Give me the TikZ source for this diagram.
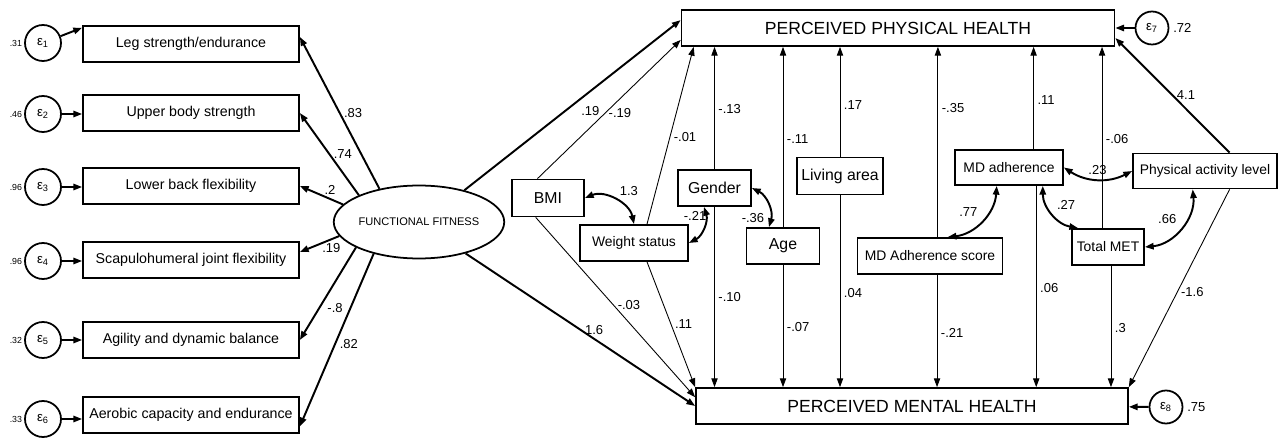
\documentclass[tikz,border=0pt]{standalone}
\usepackage{fontspec}
\setmainfont{Liberation Sans}
\usepackage{tikz}
\usetikzlibrary{arrows.meta, positioning, shapes.geometric}

\begin{document}
\begin{tikzpicture}[
        x=0.02cm, y=-0.02cm,
        obs/.style={draw, line width=1pt, inner sep=0pt, font=\fontsize{7.9}{9}\selectfont},
        ind/.style={obs, minimum width=4.32cm, minimum height=0.72cm, font=\fontsize{8.1}{9}\selectfont},
        outcome/.style={obs, minimum width=8.66cm, minimum height=0.72cm, font=\fontsize{10}{12}\selectfont},
        bigobs/.style={obs, font=\fontsize{9}{11}\selectfont},
        err/.style={circle, draw, line width=1pt, minimum size=0.72cm, inner sep=0pt, font=\fontsize{7.5}{8}\selectfont},
        var/.style={inner sep=1pt, font=\fontsize{5}{6}\selectfont},
        lbl/.style={inner sep=2pt, font=\fontsize{7.4}{8}\selectfont},
        reg/.style={-{Triangle[length=5pt, width=3.6pt]}, line width=0.5pt},
        load/.style={reg, line width=1.1pt},
        cov/.style={{Triangle[length=5pt, width=3.6pt]}-{Triangle[length=5pt, width=3.6pt]}, line width=1.1pt}
      ]
        \useasboundingbox (0,0) rectangle (1282,442);

        % Indicators with their errors
        \foreach \i/\y/\txt in {1/44/{Leg strength/endurance}, 2/113/Upper body strength, 3/186/Lower back flexibility, 4/260/Scapulohumeral joint flexibility, 5/340/Agility and dynamic balance, 6/415/Aerobic capacity and endurance} {
            \node[ind] (ind\i) at (191,\y) {\txt};
        }
        \foreach \i/\y/\v in {1/43/.31, 2/114/.46, 3/187/.96, 4/261/.96, 5/340/.32, 6/419/.33} {
            \node[err] (err\i) at (43,\y) {ε\textsubscript{\i}};
            \node[var, left=0pt of err\i] (var\i) {\v};
        }
        \draw[load] (err1) -- ([yshift=-1.5pt]ind1.north west);
        \foreach \i in {2,...,6} {
            \draw[load] (err\i) -- (err\i -| ind\i.west);
        }

        % Latent factor
        \node[ellipse, draw, line width=1pt, minimum width=2.9cm, minimum height=1.46cm, inner sep=0pt, font=\fontsize{6.3}{7}\selectfont] (ff) at (419,222) {FUNCTIONAL FITNESS};

        \draw[load] (ff.140) -- ([yshift=4pt]ind1.east) node[lbl, pos=.5, right] {.83};
        \draw[load] (ff.156) -- (ind2.east) node[lbl, pos=.5, right] {.74};
        \draw[load] (ff.167) -- (ind3.east) node[lbl, pos=.3, above] {.2};
        \draw[load] (ff.190) -- ([yshift=4.5pt]ind4.east) node[lbl, pos=.2, below] {.19};
        \draw[load] (ff.202) -- (ind5.east) node[lbl, pos=.65, right=2pt] {-.8};
        \draw[load] (ff.215) -- ([yshift=-6.5pt]ind6.east) node[lbl, pos=.52, right] {.82};

        % Outcomes
        \node[outcome] (phys) at (898,28) {PERCEIVED PHYSICAL HEALTH};
        \node[outcome, minimum width=8.64cm] (ment) at (912,406) {PERCEIVED MENTAL HEALTH};
        \node[err, minimum size=0.66cm] (err7) at (1152,28) {ε\textsubscript{7}};
        \node[lbl, right=0pt of err7] (var7) {.72};
        \node[err, minimum size=0.66cm] (err8) at (1166,407) {ε\textsubscript{8}};
        \node[lbl, right=0pt of err8] (var8) {.75};
        \draw[load] (err7) -- (phys);
        \draw[load] (err8) -- (ment);

        % Covariates
        \node[bigobs, minimum width=1.44cm, minimum height=0.74cm] (bmi) at (548,198) {BMI};
        \node[obs, minimum width=2.16cm, minimum height=0.72cm] (wstat) at (634,243) {Weight status};
        \node[bigobs, minimum width=1.46cm, minimum height=0.72cm] (gender) at (714.5,188) {Gender};
        \node[bigobs, minimum width=1.46cm, minimum height=0.72cm] (age) at (783,246) {Age};
        \node[bigobs, minimum width=1.72cm, minimum height=0.74cm] (living) at (840,176) {Living area};
        \node[obs, minimum width=2.16cm, minimum height=0.70cm] (mdadh) at (1009,167.5) {MD adherence};
        \node[obs, minimum width=2.88cm, minimum height=0.70cm] (pal) at (1205,171) {Physical activity level};
        \node[obs, minimum width=2.9cm, minimum height=0.72cm] (mdscore) at (930,256) {MD Adherence score};
        \node[obs, minimum width=1.44cm, minimum height=0.72cm] (met) at (1108,247) {Total MET};

        % Paths to physical health
        \draw[load] (ff.35) -- ([yshift=4.5pt]phys.west) node[lbl, pos=.52, below right] {.19};
        \draw[reg] ([xshift=-6pt]bmi.north) -- ([yshift=-6.8pt]phys.west) node[lbl, pos=.47, right] {-.19};
        \draw[reg] ([xshift=7.4pt]wstat.north) -- ([xshift=7.4pt]phys.south west) node[lbl, pos=.49, right] {-.01};
        \draw[reg] (gender) -- (gender |- phys.south) node[lbl, pos=.49, right] {-.13};
        \draw[reg] (age) -- (age |- phys.south) node[lbl, pos=.49, right] {-.11};
        \draw[reg] (living) -- (living |- phys.south) node[lbl, pos=.47, right] {.17};
        \draw[reg] ([xshift=4.5pt]mdscore.north) -- ([xshift=4.5pt]mdscore.north |- phys.south) node[lbl, pos=.68, right] {-.35};
        \draw[reg] ([xshift=14pt]mdadh.north) -- ([xshift=14pt]mdadh.north |- phys.south) node[lbl, pos=.48, right] {.11};
        \draw[reg] ([xshift=-3.4pt]met.north) -- ([xshift=-3.4pt]met.north |- phys.south) node[lbl, pos=.49, right] {-.06};
        \draw[load] ([xshift=14pt]pal.north) -- ([yshift=-5.7pt]phys.east) node[lbl, pos=.5, right] {4.1};

        % Paths to mental health
        \draw[load] (ff.-34) -- (ment.west) node[lbl, pos=.56, above] {1.6};
        \draw[reg] ([xshift=-7pt]bmi.south) -- ([yshift=5pt]ment.west) node[lbl, pos=.49, right] {-.03};
        \draw[reg] ([xshift=7.4pt]wstat.south) -- (ment.north west) node[lbl, pos=.5, right] {.11};
        \draw[reg] (gender) -- (gender |- ment.north) node[lbl, pos=.5, right] {-.10};
        \draw[reg] (age) -- (age |- ment.north) node[lbl, pos=.51, right] {-.07};
        \draw[reg] (living) -- (living |- ment.north) node[lbl, pos=.51, right] {.04};
        \draw[reg] ([xshift=4pt]mdscore.south) -- ([xshift=4pt]mdscore.south |- ment.north) node[lbl, pos=.52, right] {-.21};
        \draw[reg] ([xshift=15.5pt]mdadh.south) -- ([xshift=15.5pt]mdadh.south |- ment.north) node[lbl, pos=.51, right] {.06};
        \draw[reg] ([xshift=1.7pt]met.south) -- ([xshift=1.7pt]met.south |- ment.north) node[lbl, pos=.51, right] {.3};
        \draw[reg] ([xshift=14pt]pal.south) -- (ment.north east) node[lbl, pos=.52, right] {-1.6};

        % Covariances
        \draw[cov] (bmi.east) to[bend left=50] node[lbl, pos=.5, above right] {1.3} (wstat.north);
        \draw[cov] (wstat.east) to[bend right=40] node[lbl, pos=.8, left=-3pt] {-.21} ([xshift=-6pt]gender.south);
        \draw[cov] (gender.east) to[bend left=40] node[lbl, pos=.8, left=1pt] {-.36} ([xshift=-8pt]age.north);
        \draw[cov] (mdadh.east) to[bend right=30] node[lbl, pos=.5, above] {.23} (pal.west);
        \draw[cov] ([xshift=-7pt]mdadh.south) to[bend left=40] node[lbl, pos=.5, above left] {.77} ([xshift=10pt]mdscore.north);
        \draw[cov] ([xshift=-12pt]mdadh.south east) to[bend right=40] node[lbl, pos=.5, above right] {.27} ([xshift=4pt]met.north west);
        \draw[cov] ([xshift=-7pt]pal.south) to[bend left=45] node[lbl, pos=.5, above left] {.66} (met.east);

    \end{tikzpicture}
\end{document}
